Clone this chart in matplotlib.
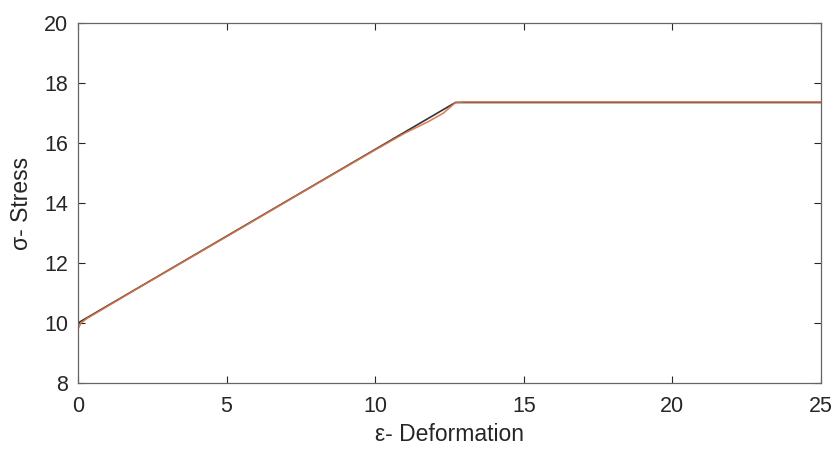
import numpy as np
import matplotlib
matplotlib.use("Agg")
import matplotlib.pyplot as plt

# values
strain_model = [0.0, 12.7, 25.0]
stress_model = [10.0, 17.35, 17.35]

strain_fit = [0.0, 0.1, 0.3, 2.0, 5.0, 8.0, 10.0, 11.0, 11.8, 12.3, 12.7, 13.0, 25.0]
stress_fit = [9.8, 10.0, 10.15, 11.15, 12.88, 14.62, 15.77, 16.33, 16.72, 17.0, 17.35, 17.37, 17.37]

plt.rcParams['font.family'] = ['Liberation Sans', 'DejaVu Sans']

fig = plt.figure(figsize=(8.37, 4.51), dpi=100)
ax = fig.add_axes([78 / 837, 1 - 383 / 451, 743 / 837, 360 / 451])

ax.plot(strain_model, stress_model, color='#333333', lw=1.2)
ax.plot(strain_fit, stress_fit, color='#D9734A', lw=1.2, alpha=0.9)

ax.set_xlim(0, 25)
ax.set_ylim(8, 20)
ax.set_xticks([0, 5, 10, 15, 20, 25])
ax.set_yticks([8, 10, 12, 14, 16, 18, 20])

ax.set_xlabel('ε- Deformation', fontsize=16.5, color='#262626', labelpad=5)
ax.set_ylabel('σ- Stress', fontsize=16.5, color='#262626', labelpad=8)
ax.tick_params(direction='in', length=5, width=0.8, top=True, right=True,
               labelsize=15.5, colors='#262626')
ax.tick_params(axis='x', pad=9)
ax.tick_params(axis='y', pad=7)
for s in ax.spines.values():
    s.set_color('#666666')
    s.set_linewidth(0.9)

fig.savefig('out.png', dpi=100)
